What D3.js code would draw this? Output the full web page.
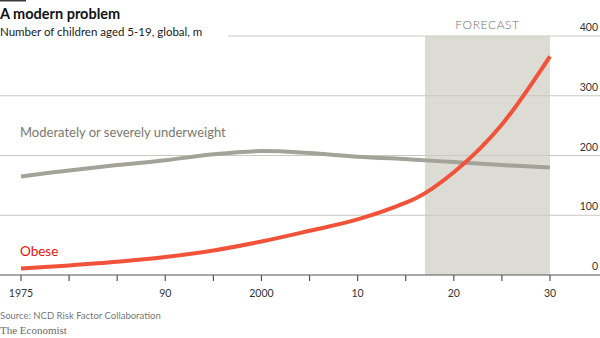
<!DOCTYPE html>
<html>
<head>
<meta charset="utf-8">
<script src="https://cdn.jsdelivr.net/npm/d3@7"></script>
<style>
  body { margin: 0; background: #fff; }
  svg { display: block; font-family: Lato, "Open Sans", sans-serif; }
</style>
</head>
<body>
<div id="chart"></div>
<script>
// children aged 5-19, millions
var years = [1975, 1980, 1985, 1990, 1995, 2000, 2005, 2010, 2015, 2016, 2020, 2025, 2030];
var underweight = [165, 175, 184, 192, 202, 207.5, 204, 198, 194, 193, 189, 184, 180];
var obese = [11, 16, 22, 30, 41, 56, 74, 93, 121, 128, 172, 252, 366];

var forecastStart = 2017;
var yTicks = [0, 100, 200, 300, 400];
var xTicks = d3.range(1975, 2031, 5);
var xLabels = {1975: "1975", 1990: "90", 2000: "2000", 2010: "10", 2020: "20", 2030: "30"};

var width = 600, height = 338;

var svg = d3.select("#chart").append("svg")
    .attr("width", width)
    .attr("height", height);

var x = d3.scaleLinear().domain([1975, 2030]).range([21, 550]);
var y = d3.scaleLinear().domain([0, 400]).range([275, 36]);

// little bar top left
svg.append("rect")
    .attr("x", 0).attr("y", 0)
    .attr("width", 26).attr("height", 1.5)
    .attr("fill", "#3a3a3a");

svg.append("text")
    .attr("x", 0).attr("y", 19)
    .attr("font-size", 14.5)
    .attr("font-weight", 700)
    .attr("fill", "#121212")
    .text("A modern problem");

svg.append("text")
    .attr("x", 0).attr("y", 36)
    .attr("font-size", 11.5)
    .attr("fill", "#1a1a1a")
    .text("Number of children aged 5-19, global, m");

// forecast shading
svg.append("rect")
    .attr("x", x(forecastStart))
    .attr("y", y(400))
    .attr("width", x(2030) - x(forecastStart))
    .attr("height", y(0) - y(400))
    .attr("fill", "#dddcd4");

svg.append("text")
    .attr("x", (x(forecastStart) + x(2030)) / 2)
    .attr("y", 28.5)
    .attr("text-anchor", "middle")
    .attr("font-size", 12)
    .attr("font-weight", 300)
    .attr("letter-spacing", 0.6)
    .attr("fill", "#707070")
    .text("FORECAST");

// gridlines
svg.append("g").selectAll("line")
    .data(yTicks.filter(function (d) { return d > 0; }))
    .enter().append("line")
    .attr("x1", function (d) { return d === 400 ? 228 : 0; })
    .attr("x2", width)
    .attr("y1", function (d) { return y(d); })
    .attr("y2", function (d) { return y(d); })
    .attr("stroke", "#c9c9c1")
    .attr("stroke-width", 1);

svg.append("g").selectAll("text")
    .data(yTicks)
    .enter().append("text")
    .attr("x", 598)
    .attr("y", function (d) { return y(d) - 5; })
    .attr("text-anchor", "end")
    .attr("font-size", 10.5)
    .attr("fill", "#333")
    .text(function (d) { return d; });

// x axis
var xAxis = svg.append("g").attr("transform", "translate(0," + y(0) + ")");
xAxis.append("line")
    .attr("x1", 0).attr("x2", width)
    .attr("stroke", "#555").attr("stroke-width", 1.2);

xAxis.selectAll(".tick")
    .data(xTicks)
    .enter().append("line")
    .attr("class", "tick")
    .attr("x1", function (d) { return x(d); })
    .attr("x2", function (d) { return x(d); })
    .attr("y1", 0).attr("y2", 6)
    .attr("stroke", "#555").attr("stroke-width", 1.2);

xAxis.selectAll(".lbl")
    .data(xTicks.filter(function (d) { return xLabels[d]; }))
    .enter().append("text")
    .attr("class", "lbl")
    .attr("x", function (d) { return x(d); })
    .attr("y", 22)
    .attr("text-anchor", "middle")
    .attr("font-size", 10.5)
    .attr("fill", "#333")
    .text(function (d) { return xLabels[d]; });

// lines: grey one is smooth, red keeps the bend where the forecast begins
var xy = function (curve) {
    return d3.line()
        .x(function (d, i) { return x(years[i]); })
        .y(function (d) { return y(d); })
        .curve(curve);
};

svg.append("path")
    .attr("d", xy(d3.curveCatmullRom)(underweight))
    .attr("fill", "none")
    .attr("stroke", "#a3a39a")
    .attr("stroke-width", 4);

svg.append("path")
    .attr("d", xy(d3.curveMonotoneX)(obese))
    .attr("fill", "none")
    .attr("stroke", "#f0533a")
    .attr("stroke-width", 4);

svg.append("text")
    .attr("x", 20).attr("y", 137)
    .attr("font-size", 13)
    .attr("fill", "#78786f")
    .text("Moderately or severely underweight");

svg.append("text")
    .attr("x", 20).attr("y", 256)
    .attr("font-size", 13.5)
    .attr("fill", "#e3120b")
    .text("Obese");

// footer
svg.append("text")
    .attr("x", 0).attr("y", 318.5)
    .attr("font-size", 9.5)
    .attr("fill", "#777")
    .text("Source: NCD Risk Factor Collaboration");

svg.append("text")
    .attr("x", 0).attr("y", 334)
    .attr("font-family", "'Liberation Serif', 'DejaVu Serif', serif")
    .attr("font-size", 11)
    .attr("fill", "#6a6a6a")
    .text("The Economist");
</script>
</body>
</html>
